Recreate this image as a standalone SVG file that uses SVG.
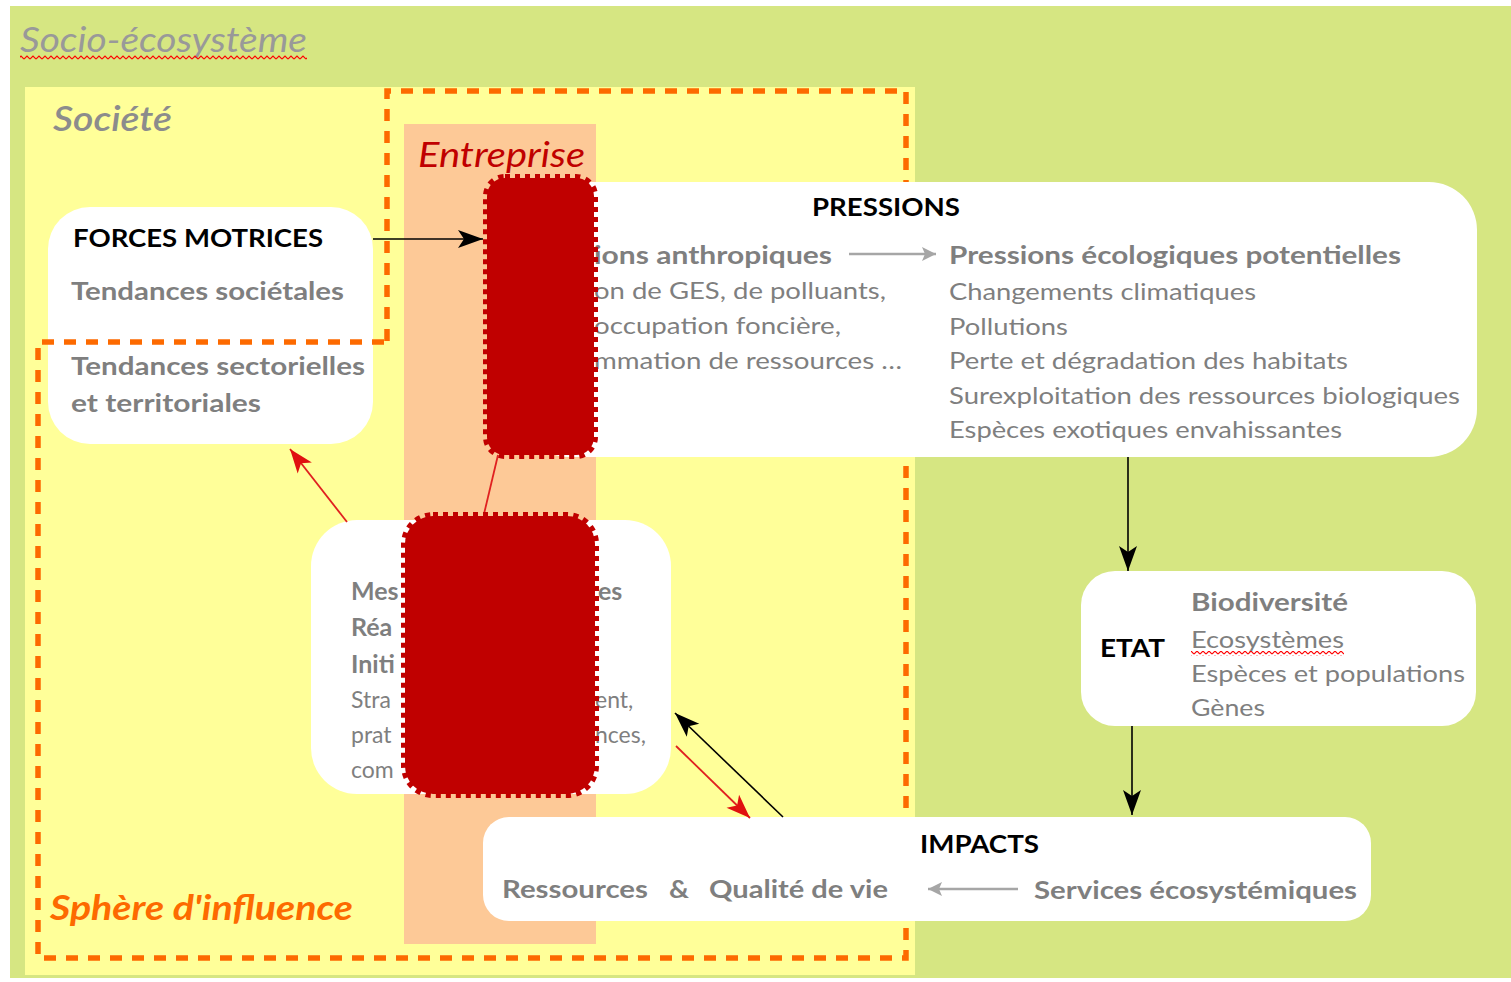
<svg xmlns="http://www.w3.org/2000/svg" width="1511" height="982" viewBox="0 0 1511 982">
<style>
text{font-family:Lato,"Open Sans","Liberation Sans",sans-serif}
.zone{font-style:italic}
.hd{font-weight:bold;fill:#000;font-size:25px}
.bg{font-weight:bold;fill:#7f7f7f;font-size:25px}
.rg{fill:#7f7f7f;font-size:23px}
.box{fill:#fff}
.blk{fill:#c00000;stroke:#c00000;stroke-width:8;stroke-dasharray:5 5}
.ka{stroke:#000;stroke-width:1.6;fill:none}
.ra{stroke:#e02020;stroke-width:1.8;fill:none}
.ga{stroke:#a6a6a6;stroke-width:2.5;fill:none}
</style>
<defs>
<pattern id="wave" patternUnits="userSpaceOnUse" x="0" y="0" width="6" height="5">
<path d="M0,4 L3,1 L6,4" fill="none" stroke="#ff0000" stroke-width="1.1"/>
</pattern>
<marker id="mk" markerUnits="userSpaceOnUse" markerWidth="30" markerHeight="20" viewBox="-26 -10 28 20" refX="0" refY="0" orient="auto">
<path d="M0,0 L-25,-9 L-19,0 L-25,9 Z" fill="#000"/>
</marker>
<marker id="mr" markerUnits="userSpaceOnUse" markerWidth="30" markerHeight="20" viewBox="-26 -10 28 20" refX="0" refY="0" orient="auto">
<path d="M0,0 L-24,-9 L-18,0 L-24,9 Z" fill="#e01010"/>
</marker>
<marker id="mg" markerUnits="userSpaceOnUse" markerWidth="20" markerHeight="16" viewBox="-16 -8 18 16" refX="0" refY="0" orient="auto">
<path d="M0,0 L-14,-7 L-11,0 L-14,7 Z" fill="#a6a6a6"/>
</marker>
</defs>

<g id="background">
<rect x="0" y="0" width="1511" height="982" fill="#fff"/>
<rect x="10" y="6" width="1501" height="972" fill="#d6e682"/>
<text class="zone" x="20" y="52" font-size="35" fill="#999" textLength="287" lengthAdjust="spacingAndGlyphs">Socio-écosystème</text>
<rect x="20" y="55" width="287" height="5" fill="url(#wave)"/>
</g>

<g id="societe">
<rect x="25" y="87" width="890" height="888" fill="#ffff99"/>
<text class="zone" x="53" y="131" font-size="35" font-weight="600" fill="#8c8c8c" textLength="119" lengthAdjust="spacingAndGlyphs">Société</text>
</g>

<g id="entreprise">
<rect x="404" y="124" width="192" height="820" fill="#fdc997"/>
<text class="zone" x="418" y="167" font-size="35" fill="#c00000" textLength="167" lengthAdjust="spacingAndGlyphs">Entreprise</text>
</g>

<g id="forces-motrices">
<rect class="box" x="48" y="207" width="325" height="237" rx="42"/>
<text class="hd" x="73" y="247" font-size="26" textLength="250" lengthAdjust="spacingAndGlyphs">FORCES MOTRICES</text>
<text class="bg" x="71" y="300" font-size="27" textLength="273" lengthAdjust="spacingAndGlyphs">Tendances sociétales</text>
<text class="bg" x="71" y="375" font-size="27" textLength="294" lengthAdjust="spacingAndGlyphs">Tendances sectorielles</text>
<text class="bg" x="71" y="412" font-size="27" textLength="190" lengthAdjust="spacingAndGlyphs">et territoriales</text>
</g>

<g id="sphere-influence">
<path d="M387,341 V91 H906 V958 H38 V342 H387" fill="none" stroke="#fd6a00" stroke-width="5.5" stroke-dasharray="12 10"/>
<text class="zone" x="50" y="920" font-size="34" font-weight="bold" fill="#fd6a00" textLength="303" lengthAdjust="spacingAndGlyphs">Sphère d'influence</text>
</g>

<g id="pressions">
<rect class="box" x="520" y="182" width="957" height="275" rx="48"/>
<text class="hd" x="812" y="216" textLength="148" lengthAdjust="spacingAndGlyphs">PRESSIONS</text>
<text class="bg" x="594" y="264" textLength="238" lengthAdjust="spacingAndGlyphs">ions anthropiques</text>
<text class="rg" x="594" y="299" textLength="292" lengthAdjust="spacingAndGlyphs">on de GES, de polluants,</text>
<text class="rg" x="594" y="334" textLength="247" lengthAdjust="spacingAndGlyphs">occupation foncière,</text>
<text class="rg" x="594" y="369" textLength="308" lengthAdjust="spacingAndGlyphs">mmation de ressources …</text>
<line class="ga" x1="849" y1="254" x2="936" y2="254" marker-end="url(#mg)"/>
<text class="bg" x="949" y="264" textLength="452" lengthAdjust="spacingAndGlyphs">Pressions écologiques potentielles</text>
<text class="rg" x="949" y="300" textLength="307" lengthAdjust="spacingAndGlyphs">Changements climatiques</text>
<text class="rg" x="949" y="335" textLength="119" lengthAdjust="spacingAndGlyphs">Pollutions</text>
<text class="rg" x="949" y="369" textLength="399" lengthAdjust="spacingAndGlyphs">Perte et dégradation des habitats</text>
<text class="rg" x="949" y="404" textLength="511" lengthAdjust="spacingAndGlyphs">Surexploitation des ressources biologiques</text>
<text class="rg" x="949" y="438" textLength="393" lengthAdjust="spacingAndGlyphs">Espèces exotiques envahissantes</text>
</g>

<g id="etat">
<rect class="box" x="1081" y="571" width="395" height="155" rx="34"/>
<text class="hd" x="1100" y="657" textLength="65" lengthAdjust="spacingAndGlyphs">ETAT</text>
<text class="bg" x="1191" y="611" textLength="157" lengthAdjust="spacingAndGlyphs">Biodiversité</text>
<text class="rg" x="1191" y="648" textLength="153" lengthAdjust="spacingAndGlyphs">Ecosystèmes</text>
<rect x="1191" y="651" width="153" height="5" fill="url(#wave)"/>
<text class="rg" x="1191" y="682" textLength="274" lengthAdjust="spacingAndGlyphs">Espèces et populations</text>
<text class="rg" x="1191" y="716" textLength="74" lengthAdjust="spacingAndGlyphs">Gènes</text>
</g>

<g id="impacts">
<rect class="box" x="483" y="817" width="888" height="104" rx="26"/>
<text class="hd" x="920" y="853" textLength="119" lengthAdjust="spacingAndGlyphs">IMPACTS</text>
<text class="bg" x="502" y="898" textLength="146" lengthAdjust="spacingAndGlyphs">Ressources</text>
<text class="bg" x="669" y="898" textLength="20" lengthAdjust="spacingAndGlyphs">&amp;</text>
<text class="bg" x="709" y="898" textLength="179" lengthAdjust="spacingAndGlyphs">Qualité de vie</text>
<line class="ga" x1="1018" y1="889" x2="928" y2="889" marker-end="url(#mg)"/>
<text class="bg" x="1034" y="899" textLength="323" lengthAdjust="spacingAndGlyphs">Services écosystémiques</text>
</g>

<g id="reponses">
<rect class="box" x="311" y="520" width="360" height="274" rx="46"/>
<text class="bg" x="351" y="600" font-size="26">Mes</text>
<text class="bg" x="351" y="636" font-size="26">Réa</text>
<text class="bg" x="351" y="673" font-size="26">Initi</text>
<text class="rg" x="351" y="708" font-size="24">Stra</text>
<text class="rg" x="351" y="743" font-size="24">prat</text>
<text class="rg" x="351" y="778" font-size="24">com</text>
<text class="bg" x="598" y="600" font-size="27">es</text>
<text class="rg" x="595" y="708" font-size="25">ent,</text>
<text class="rg" x="595" y="743" font-size="25">nces,</text>
</g>

<g id="connectors">
<line class="ka" x1="373" y1="239" x2="483" y2="239" marker-end="url(#mk)"/>
<line class="ka" x1="1128" y1="457" x2="1128" y2="571" marker-end="url(#mk)"/>
<line class="ka" x1="1132" y1="726" x2="1132" y2="815" marker-end="url(#mk)"/>
<line class="ka" x1="783" y1="817" x2="675" y2="713" marker-end="url(#mk)"/>
<line class="ra" x1="676" y1="746" x2="750" y2="818" marker-end="url(#mr)"/>
<line class="ra" x1="347" y1="522" x2="290" y2="449" marker-end="url(#mr)"/>
<line class="ra" x1="484" y1="514" x2="498" y2="455"/>
</g>

<g id="bloc-entreprise-1">
<rect class="blk" x="487" y="178" width="107" height="277" rx="18"/>
</g>
<g id="bloc-entreprise-2">
<rect class="blk" x="405" y="516" width="190" height="278" rx="28"/>
</g>
</svg>
